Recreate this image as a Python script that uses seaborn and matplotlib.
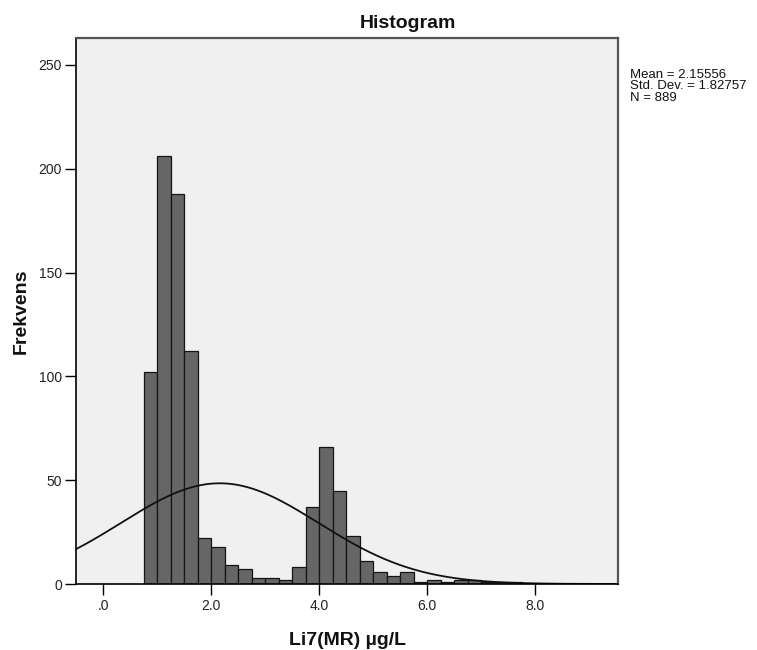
import numpy as np
import pandas as pd
import matplotlib
matplotlib.use("Agg")
import matplotlib.pyplot as plt
import seaborn as sns

# Frequency per 0.25-wide bin, starting at 0.75
bin_start = 0.75
bin_width = 0.25
counts = [102, 206, 188, 112, 22, 18, 9, 7, 3, 3, 2, 8, 37, 66, 45, 23,
          11, 6, 4, 6, 1, 2, 1, 2, 2, 1, 1, 1]

# Summary statistics shown beside the plot
mean_val = 2.15556
sd_val = 1.82757
n_total = 889

x_ticks = [0, 2, 4, 6, 8]
x_tick_labels = [".0", "2.0", "4.0", "6.0", "8.0"]
y_ticks = [0, 50, 100, 150, 200, 250]
y_tick_labels = ["0", "50", "100", "150", "200", "250"]

sns.set_theme(style="white")
plt.rcParams["font.family"] = ["Liberation Sans", "DejaVu Sans"]

W, H = 757, 650
fig = plt.figure(figsize=(W / 100, H / 100), dpi=100)
fig.patch.set_facecolor("white")
left, right, top, bottom = 76, 618, 38, 584
ax = fig.add_axes([left / W, 1 - bottom / H, (right - left) / W, (bottom - top) / H])
ax.set_facecolor("#F0F0F0")

edges = bin_start + bin_width * np.arange(len(counts) + 1)
hist_df = pd.DataFrame({
    "value": (edges[:-1] + edges[1:]) / 2,
    "count": counts,
})
sns.histplot(data=hist_df, x="value", weights="count", bins=list(edges), ax=ax,
             color="#666666", edgecolor="#151515", linewidth=0.9, alpha=1.0)

# Normal curve scaled to the histogram's frequency
xmin, xmax = -0.506, 9.53
xs = np.linspace(xmin, xmax, 500)
ys = n_total * bin_width * np.exp(-0.5 * ((xs - mean_val) / sd_val) ** 2) / (sd_val * np.sqrt(2 * np.pi))
ax.plot(xs, ys, color="#111111", linewidth=1.3)

ax.set_xlim(xmin, xmax)
ax.set_ylim(0, 263)
ax.set_xticks(x_ticks)
ax.set_xticklabels(x_tick_labels)
ax.set_yticks(y_ticks)
ax.set_yticklabels(y_tick_labels)
ax.set_xlabel("")
ax.set_ylabel("")
ax.tick_params(direction="out", length=8, width=1, color="black",
               labelsize=10, labelcolor="#222222", bottom=True, left=True)
ax.tick_params(axis="y", pad=2)
ax.tick_params(axis="x", pad=3)

for side in ["left", "bottom"]:
    ax.spines[side].set_color("black")
    ax.spines[side].set_linewidth(1.2)
for side in ["top", "right"]:
    ax.spines[side].set_color("#555555")
    ax.spines[side].set_linewidth(1.6)

fig.text(408 / W, 1 - 27.5 / H, "Histogram", ha="center", va="baseline",
         fontsize=14, fontweight="bold", color="#111111")
fig.text(21 / W, 1 - 311 / H, "Frekvens", ha="center", va="center",
         rotation=90, fontsize=14, fontweight="bold", color="#111111")
fig.text(347.5 / W, 1 - 645 / H, "Li7(MR) µg/L", ha="center", va="baseline",
         fontsize=14, fontweight="bold", color="#111111")

stats = f"Mean = {mean_val:.5f}\nStd. Dev. = {sd_val:.5f}\nN = {n_total}"
fig.text(630 / W, 1 - 68.5 / H, stats, ha="left", va="top",
         fontsize=9.5, linespacing=0.95, color="#111111")

fig.savefig("out.png", dpi=100)
